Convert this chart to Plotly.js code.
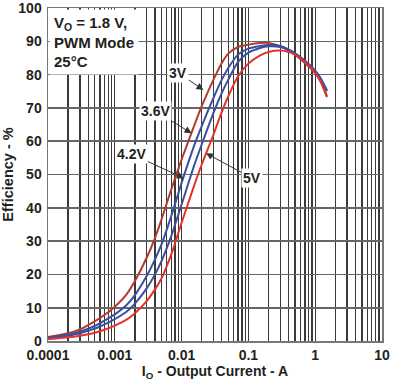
<!DOCTYPE html>
<html>
<head>
<meta charset="utf-8">
<script src="https://cdn.plot.ly/plotly-3.0.1.min.js"></script>
<style>html,body{margin:0;padding:0;background:#fff;}#chart{width:399px;height:383px;}</style>
</head>
<body>
<div id="chart"></div>
<script>
// Output current (A)
const current = [0.0001, 0.00015, 0.0002, 0.0003, 0.0005, 0.0007, 0.001, 0.0015, 0.002, 0.003, 0.004, 0.005, 0.007, 0.01, 0.015, 0.02, 0.03, 0.04, 0.05, 0.07, 0.1, 0.15, 0.2, 0.3, 0.4, 0.5, 0.7, 1, 1.2, 1.5];
// Efficiency (%) per input voltage
const eff3V  = [1.2, 1.8, 2.3, 3.5, 5.9, 7.8, 10.3, 14, 18, 25, 31, 36.5, 45.5, 54.5, 64, 70.5, 78.5, 83.5, 86.3, 88.3, 89, 89.5, 89.5, 88.5, 87.2, 86, 83.5, 80.5, 78, 73.5];
const eff36V = [1.0, 1.5, 1.9, 2.8, 4.5, 6.1, 8.0, 10.8, 13.8, 19.5, 24.5, 29, 37.5, 47.5, 58, 64.5, 73, 78.5, 82, 86, 87.8, 88.6, 88.9, 88.6, 87.5, 86.3, 84, 81, 78.8, 75];
const eff42V = [0.8, 1.3, 1.6, 2.3, 3.7, 5.0, 6.6, 8.8, 11.2, 15.8, 20, 24, 31.5, 41, 52, 59, 68.5, 74.5, 78.5, 83.8, 86.6, 88, 88.5, 88.3, 87.5, 86.4, 84.2, 81.2, 79, 75.3];
const eff5V  = [0.5, 0.9, 1.1, 1.6, 2.5, 3.4, 4.6, 6.4, 8.3, 12, 15.5, 18.8, 26, 35.5, 46, 53, 62, 68.8, 73.5, 79.5, 83.3, 85.8, 86.8, 87.2, 86.8, 86, 83.8, 80.5, 78, 73.2];
const seriesNames = ['3V', '3.6V', '4.2V', '5V'];
const xTickVals = [0.0001, 0.001, 0.01, 0.1, 1, 10];
const xTickText = ['0.0001', '0.001', '0.01', '0.1', '1', '10'];

const colors = ['#b23a2c', '#3b4f9f', '#3b4f9f', '#e4312b'];
const ys = [eff3V, eff36V, eff42V, eff5V];
const traces = ys.map((y, i) => ({
  x: current, y: y, name: seriesNames[i], type: 'scatter', mode: 'lines',
  line: {color: colors[i], width: 2, shape: 'spline', smoothing: 0.6},
  hoverinfo: 'skip'
}));

const fam = 'Liberation Sans, Arial, sans-serif';
const font = {family: fam, size: 14, color: '#231f20', weight: 'bold'};
function arrowAnn(text, xv, yv, ax, ay) {
  return {x: Math.log10(xv), y: yv, xref: 'x', yref: 'y', text: text, showarrow: true,
    ax: ax, ay: ay, arrowhead: 2, arrowsize: 1.4, arrowwidth: 1, arrowcolor: '#333',
    standoff: 0, startstandoff: 0, bgcolor: '#ffffff', borderpad: 1, font: font};
}

const layout = {
  width: 399, height: 383,
  margin: {l: 48, r: 17, t: 8, b: 42},
  paper_bgcolor: '#ffffff', plot_bgcolor: '#ffffff',
  showlegend: false,
  font: font,
  xaxis: {
    type: 'log', range: [-4, 1],
    tickvals: xTickVals, ticktext: xTickText,
    showgrid: true, gridcolor: '#3a3a3a', gridwidth: 1.3,
    minor: {dtick: 'D1', showgrid: true, gridcolor: '#3a3a3a', gridwidth: 1.3, ticks: ''},
    ticks: '', showline: true, linecolor: '#777', linewidth: 1.5, mirror: true,
    zeroline: false, tickfont: font, ticklabelstandoff: 1, ticklabeloverflow: 'allow',
    title: {text: 'I<sub>O</sub> - Output Current - A', font: font, standoff: 3}
  },
  yaxis: {
    range: [0, 100], dtick: 10,
    showgrid: true, gridcolor: '#666', gridwidth: 1.6,
    ticks: '', showline: true, linecolor: '#777', linewidth: 1.5, mirror: true,
    zeroline: false, tickfont: font, ticklabelstandoff: 2, ticklabeloverflow: 'allow',
    title: {text: 'Efficiency - %', font: {family: fam, size: 14.5, color: '#231f20', weight: 'bold'}, standoff: 6}
  },
  annotations: [
    {xref: 'paper', yref: 'paper', x: 0.004, y: 0.998, xanchor: 'left', yanchor: 'top',
     text: 'V<sub>O</sub> = 1.8 V,<br>PWM Mode<br>25°C', align: 'left', showarrow: false,
     bgcolor: '#ffffff', borderpad: 4, font: {family: fam, size: 15, color: '#231f20', weight: 'bold'}},
    arrowAnn('3V', 0.0212, 75.4, -25, -17),
    arrowAnn('3.6V', 0.0141, 62.4, -36, -22),
    arrowAnn('4.2V', 0.0108, 48.9, -52, -24),
    arrowAnn('5V', 0.0232, 56.4, 46, 25)
  ]
};

Plotly.newPlot('chart', traces, layout, {staticPlot: true, displayModeBar: false});
</script>
</body>
</html>
